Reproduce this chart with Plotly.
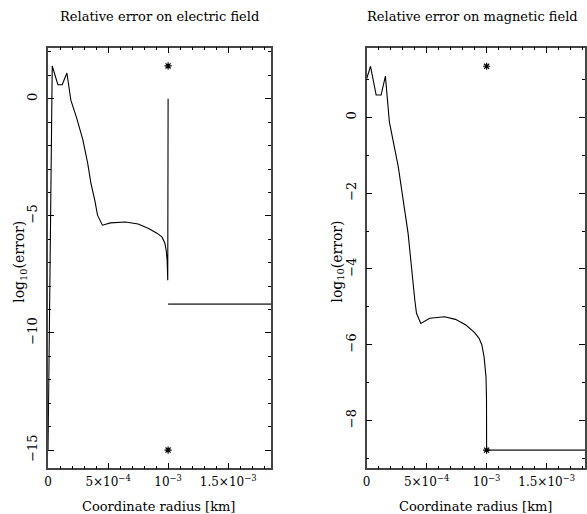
import plotly.graph_objects as go

W, H = 587, 514

# Electric field relative error (log10)
xE = [0, 3.5e-5, 8.2e-5, 1.18e-4, 1.57e-4, 1.9e-4, 2.4e-4, 2.9e-4, 3.3e-4, 3.57e-4, 3.9e-4,
      4.12e-4, 4.53e-4, 5.2e-4, 6.45e-4, 7.5e-4, 8.38e-4, 9.1e-4, 9.48e-4, 9.72e-4,
      9.84e-4, 9.92e-4, 9.97e-4, 1.0e-3]
yE = [-15.0, 1.4, 0.6, 0.6, 1.1, -0.06, -0.85, -1.76, -2.75, -3.6, -4.35,
      -4.97, -5.4, -5.3, -5.26, -5.35, -5.54, -5.75, -5.9, -6.15,
      -6.47, -6.9, -7.75, 0.0]
xE_out = [1.0e-3, 1.5e-3, 1.86e-3]
yE_out = [-8.77, -8.77, -8.77]
xE_star = [1.0e-3, 1.0e-3]
yE_star = [1.4, -15.0]

# Magnetic field relative error (log10)
xB = [0, 3.3e-5, 8.0e-5, 1.21e-4, 1.57e-4, 1.9e-4, 2.64e-4, 3.05e-4, 3.46e-4, 4.02e-4,
      4.16e-4, 4.52e-4, 5.26e-4, 6.5e-4, 7.4e-4, 8.28e-4, 9.0e-4, 9.37e-4, 9.6e-4,
      9.79e-4, 9.88e-4, 9.95e-4, 9.99e-4, 1.0e-3]
yB = [1.01, 1.35, 0.59, 0.59, 1.09, -0.12, -1.3, -2.18, -3.06, -4.82,
      -5.17, -5.44, -5.30, -5.26, -5.33, -5.48, -5.68, -5.83, -6.0,
      -6.32, -6.55, -6.85, -7.4, -8.78]
xB_out = [1.0e-3, 1.5e-3, 1.86e-3]
yB_out = [-8.78, -8.78, -8.78]
xB_star = [1.0e-3, 1.0e-3]
yB_star = [1.35, -8.78]

x_tickvals = [0, 5e-4, 1e-3, 1.5e-3]
x_ticktext = ["0", "5×10<sup>−4</sup>", "10<sup>−3</sup>", "1.5×10<sup>−3</sup>"]
yE_tickvals = [0, -5, -10, -15]
yE_ticktext = ["0", "−5", "−10", "−15"]
yB_tickvals = [0, -2, -4, -6, -8]
yB_ticktext = ["0", "−2", "−4", "−6", "−8"]

FONT = "DejaVu Serif"
AX = "#444444"

fig = go.Figure()

def add_panel(xs, ys, xo, yo, xsr, ysr, xa, ya):
    fig.add_trace(go.Scatter(x=xs, y=ys, mode="lines", line=dict(color="black", width=1.1),
                             xaxis=xa, yaxis=ya, showlegend=False, hoverinfo="skip"))
    fig.add_trace(go.Scatter(x=xo, y=yo, mode="lines", line=dict(color="#555555", width=1.6),
                             xaxis=xa, yaxis=ya, showlegend=False, hoverinfo="skip"))
    fig.add_trace(go.Scatter(x=xsr, y=ysr, mode="markers",
                             marker=dict(symbol="asterisk-open", size=6, color="black",
                                         line=dict(color="black", width=1.2)),
                             xaxis=xa, yaxis=ya, showlegend=False, hoverinfo="skip"))

add_panel(xE, yE, xE_out, yE_out, xE_star, yE_star, "x", "y")
add_panel(xB, yB, xB_out, yB_out, xB_star, yB_star, "x2", "y2")

ydom = [1 - 468.3 / H, 1 - 47.7 / H]

def xaxis(dom, rng, anchor):
    return dict(domain=dom, range=rng, anchor=anchor, tickmode="array",
                tickvals=x_tickvals, ticktext=x_ticktext,
                ticks="inside", ticklen=6, tickwidth=1, tickcolor="black",
                showline=True, linecolor=AX, linewidth=1.5, mirror="allticks",
                showgrid=False, zeroline=False, ticklabelstandoff=2,
                minor=dict(tickmode="linear", tick0=0, dtick=1e-4, ticks="inside", ticklen=3,
                           tickcolor="black", showgrid=False),
                tickfont=dict(family=FONT, size=12, color="black"))

def yaxis(rng, tv, tt, anchor):
    return dict(domain=ydom, range=rng, tickmode="array", tickvals=tv, ticktext=tt, anchor=anchor,
                ticks="inside", ticklen=6, tickwidth=1, tickcolor="black", tickangle=-90,
                showline=True, linecolor=AX, linewidth=1.5, mirror="allticks",
                showgrid=False, zeroline=False, ticklabelstandoff=4,
                minor=dict(tickmode="linear", tick0=0, dtick=1, ticks="inside", ticklen=3,
                           tickcolor="black", showgrid=False),
                tickfont=dict(family=FONT, size=13, color="black"))

fig.update_layout(
    width=W, height=H, margin=dict(l=0, r=0, t=0, b=0),
    paper_bgcolor="white", plot_bgcolor="white",
    xaxis=xaxis([44.5 / W, 270 / W], [0, 1.859e-3], "y"),
    yaxis=yaxis([-15.78, 2.18], yE_tickvals, yE_ticktext, "x"),
    xaxis2=xaxis([366.3 / W, 1.0], [0, 1.8195e-3], "y2"),
    yaxis2=yaxis([-9.26, 1.84], yB_tickvals, yB_ticktext, "x2"),
)

def ann(text, xpx, ypx, angle=0, size=13):
    fig.add_annotation(text=text, x=xpx / W, y=1 - ypx / H, xref="paper", yref="paper",
                       showarrow=False, textangle=angle, xanchor="center", yanchor="middle",
                       font=dict(family=FONT, size=size, color="black"))

ann("Relative error on electric field", 157, 16)
ann("Relative error on magnetic field", 473, 16)
ann("Coordinate radius [km]", 156, 506)
ann("Coordinate radius [km]", 476, 506)
ann("log<sub>10</sub>(error)", 16, 262, angle=-90, size=14)
ann("log<sub>10</sub>(error)", 337, 262, angle=-90, size=14)

fig.write_html("out.html", config={"displayModeBar": False},
               post_script="document.body.style.margin='0px';document.body.style.padding='0px';")
